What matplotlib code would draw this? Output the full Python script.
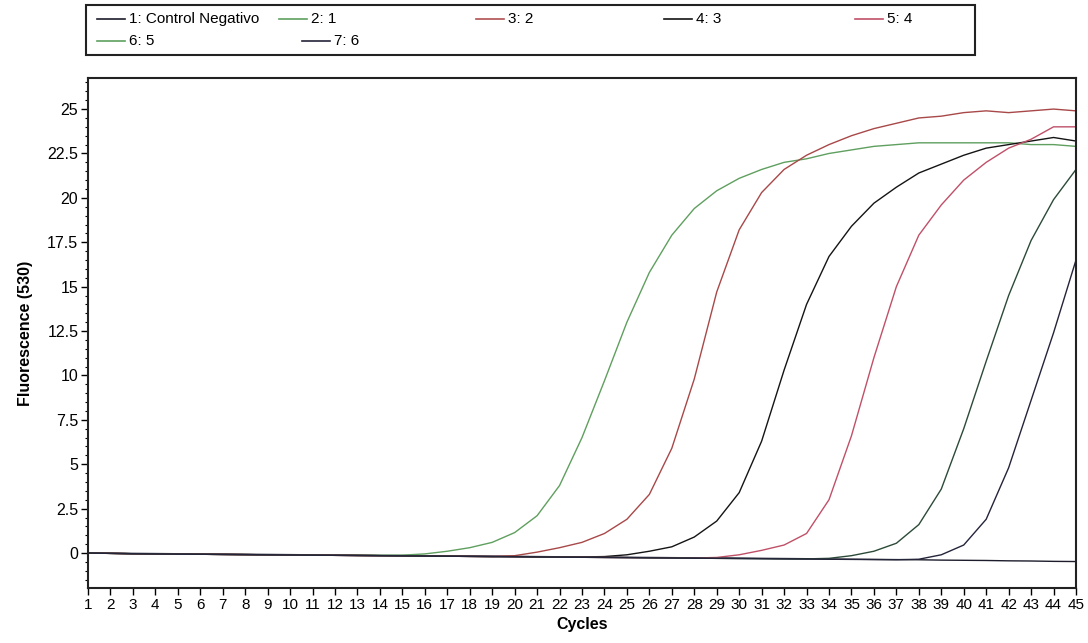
import matplotlib
matplotlib.use("Agg")
import matplotlib.pyplot as plt
from matplotlib.lines import Line2D
from matplotlib.patches import Rectangle

plt.rcParams["font.family"] = ["Liberation Sans Narrow", "Liberation Sans", "DejaVu Sans"]

# ciclos
cycles = list(range(1, 46))

# 1: Control Negativo
neg = [0.0, -0.01, -0.02, -0.03, -0.04, -0.05, -0.06, -0.07, -0.08, -0.09,
       -0.1, -0.11, -0.12, -0.13, -0.14, -0.15, -0.16, -0.17, -0.18, -0.19,
       -0.2, -0.21, -0.22, -0.23, -0.24, -0.25, -0.26, -0.27, -0.28, -0.29,
       -0.3, -0.31, -0.32, -0.34, -0.35, -0.36, -0.37, -0.38, -0.4, -0.41,
       -0.42, -0.44, -0.45, -0.47, -0.48]
# 2: 1
s1 = [0.0, -0.02, -0.04, -0.05, -0.06, -0.07, -0.08, -0.09, -0.1, -0.1,
      -0.11, -0.12, -0.12, -0.13, -0.12, -0.05, 0.1, 0.3, 0.6, 1.15,
      2.1, 3.8, 6.5, 9.7, 13.0, 15.8, 17.9, 19.4, 20.4, 21.1,
      21.6, 22.0, 22.2, 22.5, 22.7, 22.9, 23.0, 23.1, 23.1, 23.1,
      23.1, 23.1, 23.0, 23.0, 22.9]
# 3: 2
s2 = [0.0, -0.02, -0.04, -0.05, -0.06, -0.07, -0.08, -0.09, -0.1, -0.11,
      -0.12, -0.13, -0.14, -0.15, -0.16, -0.17, -0.18, -0.19, -0.2, -0.15,
      0.05, 0.3, 0.6, 1.1, 1.9, 3.3, 5.9, 9.8, 14.7, 18.2,
      20.3, 21.6, 22.4, 23.0, 23.5, 23.9, 24.2, 24.5, 24.6, 24.8,
      24.9, 24.8, 24.9, 25.0, 24.9]
# 4: 3
s3 = [0.0, -0.02, -0.04, -0.05, -0.06, -0.07, -0.08, -0.09, -0.1, -0.11,
      -0.12, -0.13, -0.14, -0.15, -0.16, -0.17, -0.18, -0.19, -0.2, -0.2,
      -0.21, -0.22, -0.22, -0.2, -0.1, 0.1, 0.35, 0.9, 1.8, 3.4,
      6.3, 10.3, 14.0, 16.7, 18.4, 19.7, 20.6, 21.4, 21.9, 22.4,
      22.8, 23.0, 23.2, 23.4, 23.2]
# 5: 4
s4 = [0.0, -0.02, -0.04, -0.05, -0.06, -0.07, -0.08, -0.09, -0.1, -0.11,
      -0.12, -0.13, -0.14, -0.15, -0.16, -0.17, -0.18, -0.19, -0.2, -0.21,
      -0.22, -0.23, -0.24, -0.25, -0.26, -0.27, -0.27, -0.28, -0.25, -0.1,
      0.15, 0.45, 1.1, 3.0, 6.6, 11.0, 15.0, 17.9, 19.6, 21.0,
      22.0, 22.8, 23.3, 24.0, 24.0]
# 6: 5
s5 = [0.0, -0.02, -0.04, -0.05, -0.06, -0.07, -0.08, -0.09, -0.1, -0.11,
      -0.12, -0.13, -0.14, -0.15, -0.16, -0.17, -0.18, -0.19, -0.2, -0.21,
      -0.22, -0.23, -0.24, -0.25, -0.26, -0.27, -0.28, -0.29, -0.3, -0.31,
      -0.32, -0.33, -0.33, -0.3, -0.15, 0.1, 0.55, 1.6, 3.6, 7.0,
      10.8, 14.5, 17.6, 19.9, 21.6]
# 7: 6
s6 = [0.0, -0.02, -0.04, -0.05, -0.06, -0.07, -0.08, -0.09, -0.1, -0.11,
      -0.12, -0.13, -0.14, -0.15, -0.16, -0.17, -0.18, -0.19, -0.2, -0.21,
      -0.22, -0.23, -0.24, -0.25, -0.26, -0.27, -0.28, -0.29, -0.3, -0.31,
      -0.32, -0.33, -0.34, -0.35, -0.36, -0.37, -0.38, -0.35, -0.1, 0.45,
      1.9, 4.8, 8.6, 12.4, 16.5]

nombres = ["1: Control Negativo", "2: 1", "3: 2", "4: 3", "5: 4", "6: 5", "7: 6"]
series = [neg, s1, s2, s3, s4, s5, s6]
colores = ["#1c1c2c", "#5f9f5f", "#a84848", "#141414", "#c05068", "#2c4a38", "#24243a"]
leyenda_col = ["#1c1c2c", "#5f9f5f", "#b05050", "#141414", "#c05068", "#5f9f5f", "#24243a"]

fig = plt.figure(figsize=(10.88, 6.43), dpi=100)
ax = fig.add_axes([88 / 1088, 1 - 588 / 643, (1076 - 88) / 1088, (588 - 78) / 643])

for s, c in zip(series, colores):
    ax.plot(cycles, s, color=c, lw=1.0)

ax.set_xlim(1, 45)
ax.set_ylim(-1.97, 26.75)
ax.set_xticks(cycles)
ax.set_xticklabels([str(c) for c in cycles], fontsize=11)
ax.set_yticks([0, 2.5, 5, 7.5, 10, 12.5, 15, 17.5, 20, 22.5, 25])
ax.set_yticklabels(["0", "2.5", "5", "7.5", "10", "12.5", "15", "17.5", "20", "22.5", "25"], fontsize=11.5)
ax.set_yticks([i * 0.5 for i in range(-3, 54) if i % 5 != 0], minor=True)
ax.tick_params(axis="both", which="major", direction="out", length=5, width=1, pad=2)
ax.tick_params(axis="y", which="minor", direction="out", length=2.5, width=0.8)
for sp in ax.spines.values():
    sp.set_linewidth(1.5)
    sp.set_color("#222222")

ax.set_xlabel("Cycles", fontsize=11.5, fontweight="bold", labelpad=4)
ax.set_ylabel("Fluorescence (530)", fontsize=11.5, fontweight="bold", labelpad=10)

# Leyenda manual (columnas irregulares como el original)
fig.patches.append(Rectangle((86 / 1088, 1 - 55 / 643), (975 - 86) / 1088, 50 / 643,
                             transform=fig.transFigure, fill=False, lw=1.5, ec="#222222"))
pos = [(97, 19), (279, 19), (476, 19), (664, 19), (855, 19), (97, 41), (302, 41)]
for (px, py), n, c in zip(pos, nombres, leyenda_col):
    yy = 1 - py / 643
    fig.lines.append(Line2D([px / 1088, (px + 28) / 1088], [yy, yy], transform=fig.transFigure,
                            color=c, lw=1.2))
    fig.text((px + 32) / 1088, yy, n, fontsize=11, va="center", ha="left")

plt.savefig("out.png", dpi=100)
